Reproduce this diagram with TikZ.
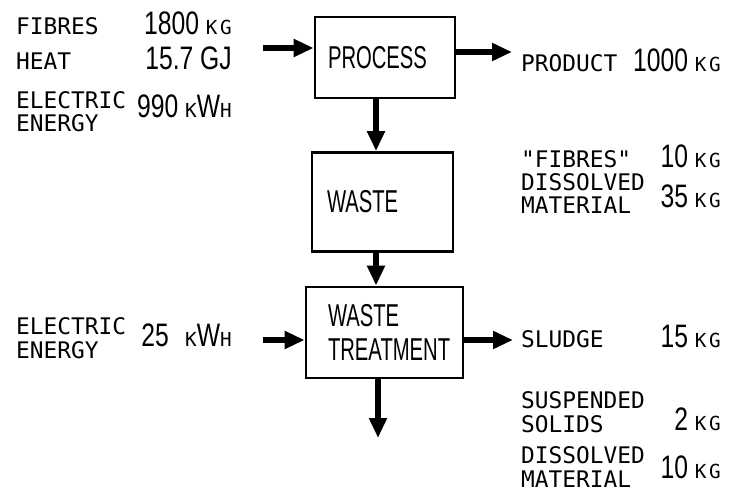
\documentclass[tikz,border=0pt]{standalone}
\usepackage{fontspec}
\usetikzlibrary{arrows.meta, positioning}
\newfontfamily\labfont{DejaVu Sans Mono}
\newfontfamily\valfont[FakeStretch=0.76]{Liberation Sans}
\newfontfamily\boxfont[FakeStretch=0.64]{Liberation Sans}
\newcommand{\smallunit}[1]{{\labfont\fontsize{11}{12}\selectfont #1}}
\newcommand{\kg}{\smallunit{K\kern1.5pt G}}
\newcommand{\kwh}{\smallunit{K}W\smallunit{H}}

\begin{document}
\begin{tikzpicture}[x=0.02cm, y=-0.02cm,
  box/.style={draw, line width=1.6pt, align=left, font=\boxfont\fontsize{18}{19.5}\selectfont},
  flow/.style={line width=3pt, -{Triangle[length=0.4cm, width=0.34cm]}},
  lab/.style={anchor=base west, align=left, font=\labfont\fontsize{13}{13.5}\selectfont},
  val/.style={anchor=base east, font=\valfont\fontsize{18.5}{20}\selectfont}]
  \useasboundingbox (0,0) rectangle (732,492);

  % inputs to the process
  \node[lab] (fib) at (10,35) {FIBRES};
  \node[val] (fibv) at (238,35) {1800~\kg};
  \node[lab] (heat) at (10,70) {HEAT};
  \node[val] (heatv) at (238,70) {15.7~GJ};
  \node[lab] (elec) at (10,132) {ELECTRIC\\ENERGY};
  \node[val] (elecv) at (238,118) {990~\kwh};

  % the three boxes
  \node[box, text width=2.28cm, inner xsep=0.26cm, minimum height=1.62cm] (proc) at (385,57.5) {PROCESS};
  \node[box, text width=2.22cm, inner xsep=0.3cm, minimum height=1.98cm] (waste) at (382.5,202) {WASTE};
  \node[box, text width=2.26cm, inner xsep=0.44cm, minimum height=1.82cm] (treat) at (384.5,332.5) {WASTE\\TREATMENT};

  % outputs
  \node[lab] (prod) at (515,72) {PRODUCT};
  \node[val] (prodv) at (727,72) {1000~\kg};
  \node[lab] (wfib) at (515,168) {"FIBRES"};
  \node[val] (wfibv) at (727,168) {10~\kg};
  \node[lab] (wdis) at (515,214) {DISSOLVED\\MATERIAL};
  \node[val] (wdisv) at (727,208) {35~\kg};

  \node[lab] (telec) at (10,358) {ELECTRIC\\ENERGY};
  \node[val] (telecv) at (238,347) {25\enspace\kwh};
  \node[lab] (sludge) at (515,348) {SLUDGE};
  \node[val] (sludgev) at (727,348) {15~\kg};
  \node[lab] (susp) at (515,432) {SUSPENDED\\SOLIDS};
  \node[val] (suspv) at (727,430) {2~\kg};
  \node[lab] (tdis) at (515,487) {DISSOLVED\\MATERIAL};
  \node[val] (tdisv) at (727,478) {10~\kg};

  % arrows
  \coordinate (pin) at (263,48);
  \coordinate (pout) at (512,52);
  \coordinate (vx) at (376,0);
  \coordinate (tin) at (263,340);
  \coordinate (tout) at (513,340);
  \coordinate (tdown) at (378,438);
  \draw[flow] (pin) -- (pin -| proc.west);
  \draw[flow] (proc.east |- pout) -- (pout);
  \draw[flow] (proc.south -| vx) -- (waste.north -| vx);
  \draw[flow] (waste.south -| vx) -- (treat.north -| vx);
  \draw[flow] (tin) -- (tin -| treat.west);
  \draw[flow] (treat.east |- tout) -- (tout);
  \draw[flow] (treat.south -| tdown) -- (tdown);
\end{tikzpicture}
\end{document}
